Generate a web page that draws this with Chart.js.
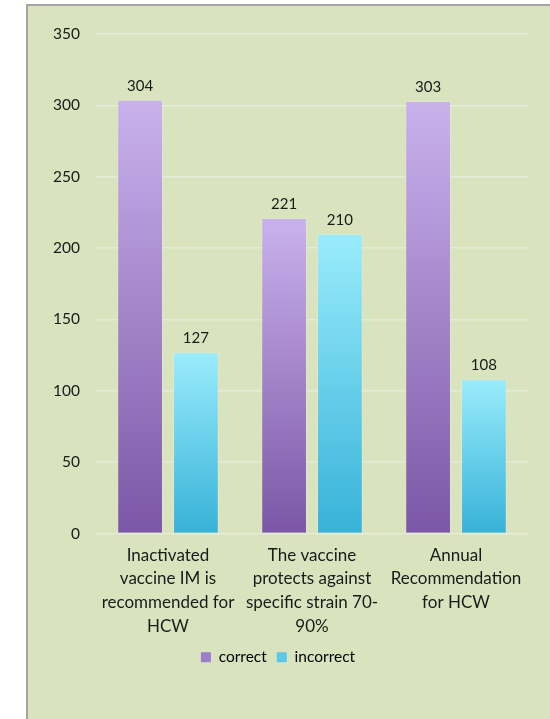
<!DOCTYPE html>
<html><head><meta charset="utf-8">
<script src="https://cdn.jsdelivr.net/npm/chart.js@4/dist/chart.umd.min.js"></script>
<style>
html,body{margin:0;padding:0;background:#fff;width:550px;height:719px;overflow:hidden;}
#panel{position:absolute;left:26px;top:4px;width:524px;height:715px;background:#d9e4bf;border-left:2px solid #a4a4a4;border-top:2px solid #a4a4a4;}
#wrap{position:absolute;left:0;top:0;width:522px;height:713px;}
</style></head><body>
<div id="panel"><div id="wrap"><canvas id="c" width="522" height="713"></canvas></div></div>
<script>
const categories = [
  ["Inactivated","vaccine IM is","recommended for","HCW"],
  ["The vaccine","protects against","specific strain 70-","90%"],
  ["Annual","Recommendation","for HCW"]
];
const seriesNames = ["correct","incorrect"];
const correctValues = [304, 221, 303];
const incorrectValues = [127, 210, 108];
const yTicks = [0,50,100,150,200,250,300,350];

const FONT = "Lato, 'Open Sans', sans-serif";

function barGrad(context, light, dark){
  const chart = context.chart;
  if(!chart.chartArea || context.raw == null) return dark;
  const y = chart.scales.y;
  const top = y.getPixelForValue(context.raw);
  const bot = y.getPixelForValue(0);
  if(!isFinite(top) || !isFinite(bot) || top===bot) return dark;
  const g = chart.ctx.createLinearGradient(0, top, 0, bot);
  g.addColorStop(0, light);
  g.addColorStop(1, dark);
  return g;
}

const valueLabels = {
  id:'valueLabels',
  afterDatasetsDraw(chart){
    const c = chart.ctx;
    c.save();
    c.font = "15px " + FONT;
    c.fillStyle = "#1a1a1a";
    c.textAlign = "center";
    c.textBaseline = "alphabetic";
    chart.data.datasets.forEach((ds,i)=>{
      chart.getDatasetMeta(i).data.forEach((el,j)=>{
        c.fillText(String(ds.data[j]), el.x, el.y - 9);
      });
    });
    c.restore();
  }
};

new Chart(document.getElementById('c'), {
  type:'bar',
  data:{
    labels: categories,
    datasets:[
      {label:seriesNames[0], data:correctValues,
       backgroundColor: ctx=>barGrad(ctx,'#c9b2ec','#7c56a6'),
       borderColor:'rgba(230,230,240,0.35)', borderWidth:1,
       categoryPercentage:0.775, barPercentage:0.82},
      {label:seriesNames[1], data:incorrectValues,
       backgroundColor: ctx=>barGrad(ctx,'#9aecfc','#37b2d8'),
       borderColor:'rgba(230,240,240,0.35)', borderWidth:1,
       categoryPercentage:0.775, barPercentage:0.82}
    ]
  },
  options:{
    responsive:false,
    animation:false,
    layout:{padding:{top:28,right:22,left:0,bottom:44}},
    plugins:{
      legend:{
        position:'bottom',
        labels:{
          font:{family:FONT,size:15.5},
          color:'#1a1a1a',
          boxWidth:10, boxHeight:10, padding:10,
          generateLabels(chart){
            const cols=['#9c7fcc','#5cc8e8'];
            return chart.data.datasets.map((d,i)=>({text:d.label,fillStyle:cols[i],strokeStyle:cols[i],lineWidth:0,datasetIndex:i,hidden:false}));
          }
        }
      },
      tooltip:{enabled:false}
    },
    scales:{
      x:{
        grid:{display:false},
        border:{display:false},
        ticks:{font:{family:FONT,size:17,lineHeight:1.39},color:'#1a1a1a',padding:2,maxRotation:0,autoSkip:false},
        afterFit(s){ s.height = 106; }
      },
      y:{
        min:0,max:350,
        afterBuildTicks(s){ s.ticks = yTicks.map(v=>({value:v})); },
        grid:{color:'#e4ebd8',lineWidth:1.5,drawTicks:false},
        border:{display:false},
        ticks:{font:{family:FONT,size:15.5},color:'#1a1a1a',padding:16},
        afterFit(s){ s.width = 68; }
      }
    }
  },
  plugins:[valueLabels]
});
</script>
</body></html>
